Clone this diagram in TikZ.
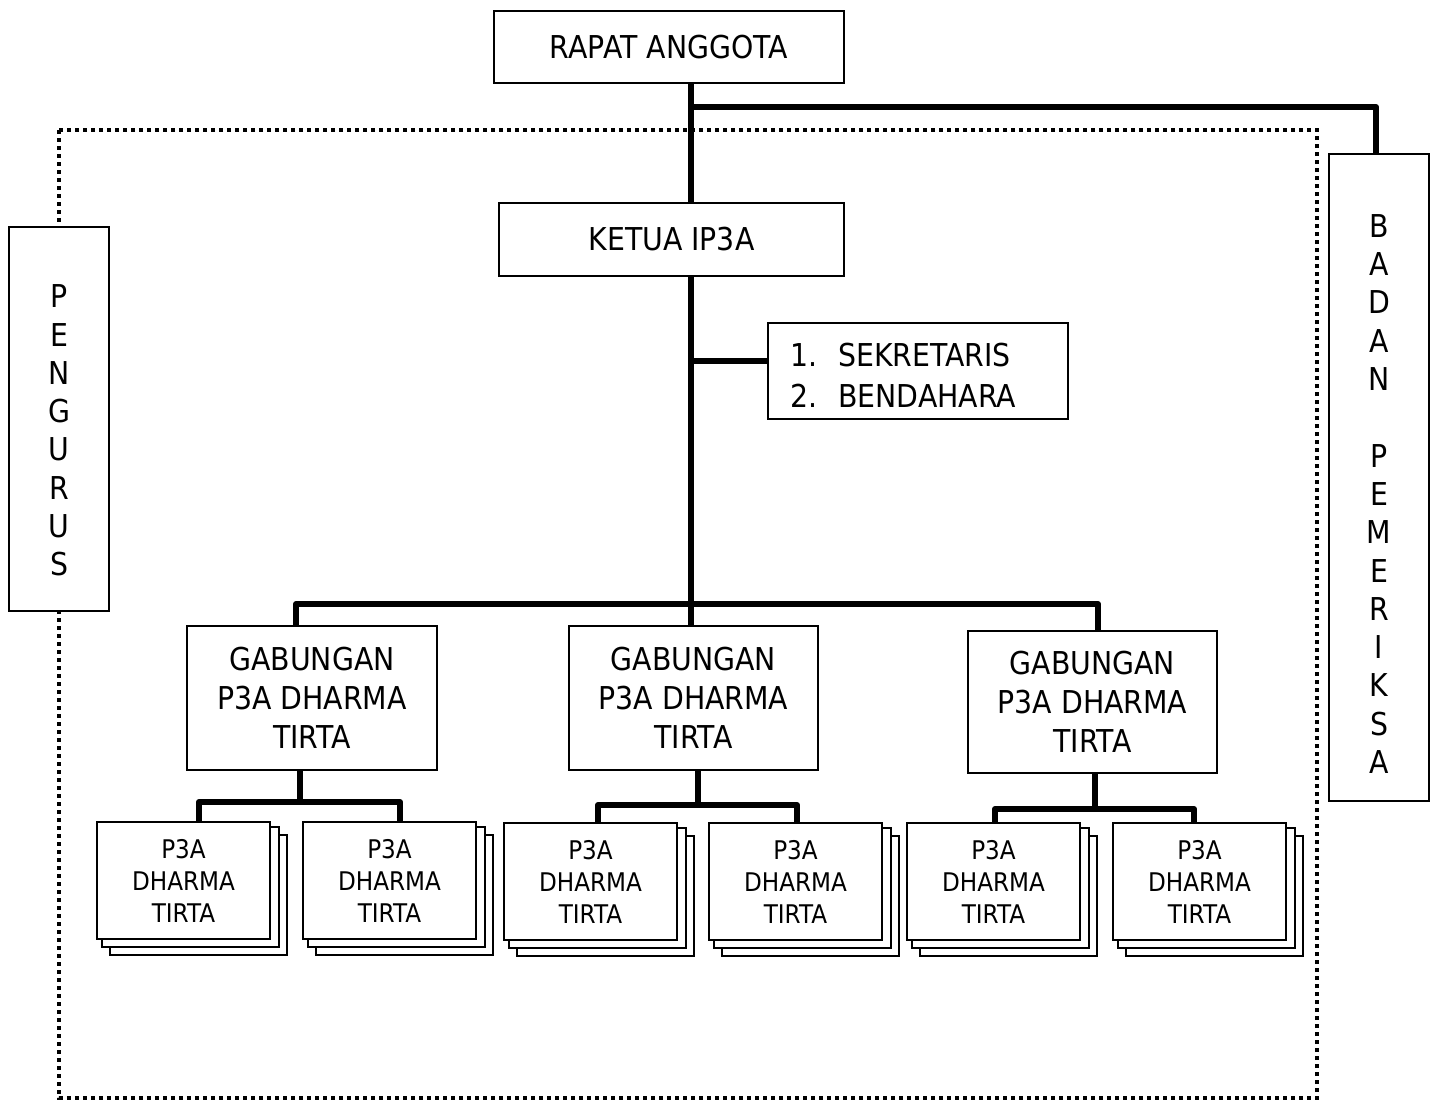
\documentclass[tikz,border=0pt]{standalone}
\usepackage{fontspec}
\setmainfont{DejaVu Sans}[FakeStretch=0.9]
\newcommand\fbig{\fontsize{31.5}{39}\selectfont}
\newcommand\fsmall{\fontsize{25.7}{32}\selectfont}
\newcommand\fvert{\fontsize{31.5}{38.3}\selectfont}
\newcommand\fsek{\fontsize{31.5}{41}\selectfont}
\newcommand\pthree[3]{%
  \draw[layer] (#2+13,#3+13) rectangle ++(177,120);
  \draw[layer] (#2+5,#3+5) rectangle ++(177,120);
  \node[box, font=\fsmall, anchor=north west, minimum width=173, minimum height=117] (#1) at (#2,#3) {P3A\\DHARMA\\TIRTA};}
\begin{document}
\begin{tikzpicture}[x=1pt,y=-1pt,
  box/.style={draw, line width=1.8pt, fill=white, inner sep=0pt, outer sep=0pt, align=center, font=\fbig},
  layer/.style={draw, line width=1.8pt, fill=white},
  conn/.style={line width=6pt, line join=round},
  dots/.style={line width=4pt, dash pattern=on 4pt off 4pt}]
\useasboundingbox (0,0) rectangle (1436,1100);
\fill[white] (0,0) rectangle (1436,1100);
\draw[dots] (59,130) rectangle (1317,1098);

\node[box, minimum width=350, minimum height=72] (rapat) at (669,47) {RAPAT ANGGOTA};
\node[box, minimum width=345, minimum height=73] (ketua) at (671.5,239.5) {KETUA IP3A};
\node[box, minimum width=300, minimum height=96] (sek) at (918,371) {};
\node[anchor=west, inner sep=0pt, align=left, font=\fsek] (sektext) at (790,375.5)
  {\makebox[48pt][l]{1.}SEKRETARIS\\\makebox[48pt][l]{2.}BENDAHARA};
\node[box, minimum width=250, minimum height=144] (gab1) at (312,698) {GABUNGAN\\P3A DHARMA\\TIRTA};
\node[box, minimum width=249, minimum height=144] (gab2) at (693.5,698) {GABUNGAN\\P3A DHARMA\\TIRTA};
\node[box, minimum width=249, minimum height=142] (gab3) at (1092.5,702) {GABUNGAN\\P3A DHARMA\\TIRTA};
\node[box, minimum width=100, minimum height=384] (peng) at (59,419) {};
\node[font=\fvert, align=center, inner sep=0pt] (pengtext) at (59,430.5) {P\\E\\N\\G\\U\\R\\U\\S};
\node[box, minimum width=100, minimum height=647] (badan) at (1379,477.5) {};
\node[font=\fvert, align=center, inner sep=0pt] (badantext) at (1379,494)
  {B\\A\\D\\A\\N\\[38.3pt]P\\E\\M\\E\\R\\I\\K\\S\\A};

\pthree{p1a}{97}{822}
\pthree{p1b}{303}{822}
\pthree{p2a}{504}{823}
\pthree{p2b}{709}{823}
\pthree{p3a}{907}{823}
\pthree{p3b}{1113}{823}

% main connectors
\coordinate (mx) at (691,0);
\draw[conn] (rapat.south -| mx) -- (ketua.north -| mx);
\draw[conn] (ketua.south -| mx) -- (gab2.north -| mx);
\coordinate (tb) at (691,107);
\draw[conn] (tb) -| ([xshift=-3pt]badan.north);
\coordinate (ts) at (691,361);
\draw[conn] (ts) -- (ts -| sek.west);
\coordinate (tg) at (691,604);
\draw[conn] ([xshift=-16pt]gab1.north) |- (tg) -| ([xshift=5.5pt]gab3.north);

% group connectors
\coordinate (g1j) at (300,802);
\draw[conn] (gab1.south -| g1j) -- (g1j);
\draw[conn] ([xshift=15.5pt]p1a.north) |- (g1j) -| ([xshift=10.5pt]p1b.north);
\coordinate (g2j) at (698,805);
\draw[conn] (gab2.south -| g2j) -- (g2j);
\draw[conn] ([xshift=7.5pt]p2a.north) |- (g2j) -| ([xshift=1.5pt]p2b.north);
\coordinate (g3j) at (1095,809);
\draw[conn] (gab3.south -| g3j) -- (g3j);
\draw[conn] ([xshift=1.5pt]p3a.north) |- (g3j) -| ([xshift=-5.5pt]p3b.north);
\end{tikzpicture}
\end{document}
